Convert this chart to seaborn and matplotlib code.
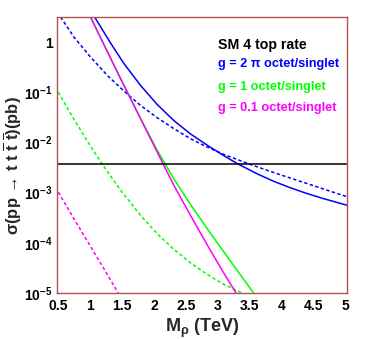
import math
import matplotlib
matplotlib.use("Agg")
import matplotlib.pyplot as plt
import matplotlib.ticker as mticker
import seaborn as sns

# M_rho in TeV, cross section in pb
m_blue = [1.07, 1.32, 1.53, 1.79, 2.05, 2.31, 2.57, 2.84, 3.10, 3.31, 3.62, 3.88, 4.14, 4.40, 4.66, 5.03]
xs_blue = [3.15, 0.955, 0.372, 0.137, 0.0573, 0.0275, 0.0149, 0.00875, 0.00542, 0.00377,
           0.00237, 0.00168, 0.00125, 0.00096, 0.00076, 0.00056]

m_blue_d = [0.536, 0.745, 1.006, 1.268, 1.529, 1.79, 2.051, 2.313, 2.574, 2.835, 3.096,
            3.514, 3.88, 4.14, 4.40, 4.66, 5.03]
xs_blue_d = [3.15, 1.26, 0.502, 0.217, 0.106, 0.0547, 0.0311, 0.0188, 0.01186, 0.00809,
             0.00578, 0.00364, 0.00251, 0.00195, 0.00152, 0.00118, 0.000828]

m_green = [1.006, 1.268, 1.529, 1.79, 2.051, 2.313, 2.574, 2.835, 3.096, 3.358, 3.565]
xs_green = [3.15, 0.649, 0.138, 0.0303, 0.00706, 0.00187, 0.00058, 0.000193, 6.62e-5, 2.29e-5, 1e-5]

m_green_d = [0.5, 0.745, 1.006, 1.20, 1.477, 1.79, 2.051, 2.313, 2.574, 2.835, 3.096, 3.38]
xs_green_d = [0.1, 0.0289, 0.00843, 0.00353, 0.00112, 0.000353, 0.000152, 7.4e-5,
              4.0e-5, 2.35e-5, 1.49e-5, 1e-5]

m_mag = [1.006, 1.268, 1.529, 1.79, 2.051, 2.313, 2.574, 2.835, 3.096, 3.29]
xs_mag = [3.15, 0.652, 0.137, 0.0297, 0.00644, 0.0014, 0.000352, 9.18e-5, 2.5e-5, 1e-5]

m_mag_d = [0.5, 0.745, 1.006, 1.268, 1.44]
xs_mag_d = [0.00102, 0.000303, 8.5e-5, 2.36e-5, 1e-5]

sm_rate = 0.00366
m_range = [0.48, 5.03]

labels = ["SM 4 top rate", "g = 2 \u03c0 octet/singlet", "g = 1 octet/singlet", "g = 0.1 octet/singlet"]

BLUE, GREEN, MAG = "#0000ff", "#00ff00", "#ff00ff"

sns.set_style("white")
plt.rcParams["font.family"] = ["Liberation Sans", "DejaVu Sans"]
plt.rcParams["font.weight"] = "bold"
plt.rcParams["mathtext.fontset"] = "custom"
plt.rcParams["mathtext.rm"] = "Liberation Sans:bold"
plt.rcParams["mathtext.it"] = "Liberation Sans:bold"
plt.rcParams["mathtext.bf"] = "Liberation Sans:bold"

fig = plt.figure(figsize=(3.74, 3.39), dpi=100)
ax = fig.add_axes([57 / 374, 46 / 339, 290 / 374, 276 / 339])

dash = (2.2, 1.6)
sns.lineplot(x=m_blue, y=xs_blue, color=BLUE, lw=1.1, ax=ax)
sns.lineplot(x=m_blue_d, y=xs_blue_d, color=BLUE, lw=1.1, ax=ax).lines[-1].set_dashes(dash)
sns.lineplot(x=m_green, y=xs_green, color=GREEN, lw=1.1, ax=ax)
sns.lineplot(x=m_green_d, y=xs_green_d, color=GREEN, lw=1.1, ax=ax).lines[-1].set_dashes(dash)
sns.lineplot(x=m_mag, y=xs_mag, color=MAG, lw=1.1, ax=ax)
sns.lineplot(x=m_mag_d, y=xs_mag_d, color=MAG, lw=1.1, ax=ax).lines[-1].set_dashes(dash)
sns.lineplot(x=m_range, y=[sm_rate, sm_rate], color="black", lw=1.1, ax=ax)

ax.set_yscale("log")
ax.set_xlim(m_range)
ax.set_ylim(1e-5, 3.15)

ax.xaxis.set_major_locator(mticker.MultipleLocator(0.5))
ax.xaxis.set_minor_locator(mticker.MultipleLocator(0.1))
ax.xaxis.set_major_formatter(mticker.FuncFormatter(lambda v, p: "%g" % v))
ax.yaxis.set_major_locator(mticker.LogLocator(base=10, numticks=12))
ax.yaxis.set_minor_locator(mticker.LogLocator(base=10, subs=range(2, 10), numticks=12))
ax.yaxis.set_minor_formatter(mticker.NullFormatter())


def yfmt(v, p):
    e = int(round(math.log10(v)))
    return "1" if e == 0 else r"$10^{%d}$" % e


ax.yaxis.set_major_formatter(mticker.FuncFormatter(yfmt))
ax.tick_params(which="both", direction="in", top=False, right=False, colors="black",
               labelsize=10, width=0.8)
ax.tick_params(which="major", length=8, pad=3)
ax.tick_params(axis="x", which="major", pad=4)
ax.tick_params(which="minor", length=4)
for t in ax.get_xticklabels() + ax.get_yticklabels():
    t.set_fontweight("bold")

for s in ax.spines.values():
    s.set_color("#b05050")
    s.set_linewidth(1.0)

ax.set_xlabel(r"M$_{\rho}$ (TeV)", fontsize=13, fontweight="bold", labelpad=3)
ax.set_ylabel(r"$\sigma$(pp$\,\rightarrow\,$t t $\overline{\mathrm{t}}$ $\overline{\mathrm{t}}$)(pb)",
              fontsize=12, fontweight="bold")
ax.yaxis.set_label_coords(-0.115, 0.46)

colors = ["black", BLUE, GREEN, MAG]
sizes = [10.2, 9.2, 9.2, 9.2]
ys = [45.5, 64.5, 87, 107.5]
for txt, c, fs, y in zip(labels, colors, sizes, ys):
    fig.text(218 / 374, 1 - y / 339, txt, color=c, fontsize=fs, fontweight="bold",
             va="center", ha="left")

fig.savefig("out.png", dpi=100)
